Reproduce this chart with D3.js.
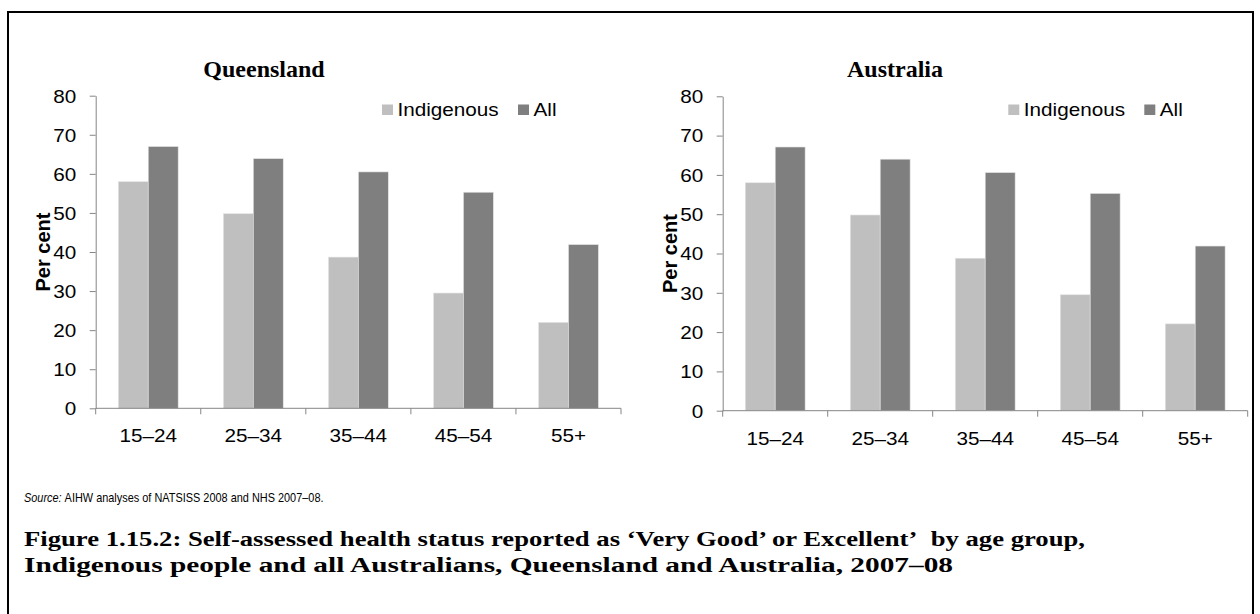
<!DOCTYPE html>
<html>
<head>
<meta charset="utf-8">
<script src="https://cdn.jsdelivr.net/npm/d3@7"></script>
<style>
  body { margin: 0; background: #fff; }
  svg text { fill: #000; }
</style>
</head>
<body>
<script>
// age groups and values (per cent)
var ageGroups = ["15\u201324", "25\u201334", "35\u201344", "45\u201354", "55+"];
var seriesNames = ["Indigenous", "All"];
var qldIndigenous = [58, 49.8, 38.7, 29.5, 22];
var qldAll = [67, 63.9, 60.5, 55.3, 41.9];
var ausIndigenous = [58, 49.8, 38.8, 29.5, 22.1];
var ausAll = [67.1, 64, 60.6, 55.3, 41.9];
var yTicks = [0, 10, 20, 30, 40, 50, 60, 70, 80];

var colors = ["#bfbfbf", "#7f7f7f"];
var sx = 1.15; // chart text in the picture is a bit stretched sideways
var sans = "'Liberation Sans', Arial, sans-serif";
var serif = "'Liberation Serif', 'Times New Roman', serif";

var svg = d3.select("body").append("svg")
  .attr("width", 1260)
  .attr("height", 614);

// outer frame
svg.append("rect")
  .attr("x", 8).attr("y", 12)
  .attr("width", 1245).attr("height", 620)
  .attr("fill", "none")
  .attr("stroke", "#000")
  .attr("stroke-width", 2);

function addText(g, x, y, str, size, opts) {
  opts = opts || {};
  var t = g.append("text")
    .attr("transform", "translate(" + x + "," + y + ") scale(" + (opts.scale || sx) + ",1)")
    .attr("font-family", opts.family || sans)
    .attr("font-size", size)
    .attr("font-weight", opts.weight || "normal")
    .attr("font-style", opts.style || "normal")
    .attr("text-anchor", opts.anchor || "start")
    .text(str);
  if (opts.len) {
    t.attr("textLength", opts.len).attr("lengthAdjust", "spacingAndGlyphs");
  }
  return t;
}

function drawChart(title, indig, all, box) {
  var g = svg.append("g");
  var x = d3.scaleBand()
    .domain(ageGroups)
    .range([box.left, box.right])
    .paddingInner(0.43)
    .paddingOuter(0.215);
  var x1 = d3.scaleBand()
    .domain(seriesNames)
    .range([0, x.bandwidth()]);
  var y = d3.scaleLinear()
    .domain([0, 80])
    .range([box.bottom, box.top]);

  var rows = ageGroups.map(function(a, i) {
    return { age: a, values: [indig[i], all[i]] };
  });

  g.selectAll("g.grp")
    .data(rows)
    .enter().append("g")
    .attr("class", "grp")
    .attr("transform", function(d) { return "translate(" + x(d.age) + ",0)"; })
    .selectAll("rect")
    .data(function(d) { return d.values.map(function(v, k) { return { s: seriesNames[k], v: v, k: k }; }); })
    .enter().append("rect")
    .attr("x", function(d) { return x1(d.s); })
    .attr("y", function(d) { return y(d.v); })
    .attr("width", x1.bandwidth())
    .attr("height", function(d) { return box.bottom - y(d.v); })
    .attr("fill", function(d) { return colors[d.k]; })
    .attr("stroke", "#e6e6e6")
    .attr("stroke-width", 0.6);

  // y axis
  var yAxis = g.append("g")
    .attr("transform", "translate(" + box.left + ",0)")
    .call(d3.axisLeft(y).tickValues(yTicks).tickSize(6).tickSizeOuter(0));
  yAxis.select(".domain").attr("stroke", "#868686");
  yAxis.selectAll(".tick line").attr("stroke", "#868686");
  yAxis.selectAll(".tick text")
    .attr("x", -17)
    .attr("dy", "0.35em")
    .attr("transform", "scale(" + sx + ",1)")
    .attr("font-family", sans)
    .attr("font-size", 18)
    .attr("fill", "#000");

  // x axis line and boundary ticks
  var xAxis = g.append("g");
  xAxis.append("line")
    .attr("x1", box.left).attr("x2", box.right)
    .attr("y1", box.bottom).attr("y2", box.bottom)
    .attr("stroke", "#868686");
  var bounds = ageGroups.map(function(a) { return x(a) - x.step() * x.paddingOuter(); });
  bounds.push(box.right);
  xAxis.selectAll("line.tk")
    .data(bounds)
    .enter().append("line")
    .attr("class", "tk")
    .attr("x1", function(d) { return d; }).attr("x2", function(d) { return d; })
    .attr("y1", box.bottom).attr("y2", box.bottom + 6)
    .attr("stroke", "#868686");
  ageGroups.forEach(function(a) {
    addText(xAxis, x(a) + x.bandwidth() / 2, box.bottom + 34, a, 18, { anchor: "middle" });
  });

  // y axis title
  g.append("text")
    .attr("transform", "translate(" + (box.left - 46) + "," + ((box.top + box.bottom) / 2) + ") rotate(-90)")
    .attr("font-family", sans)
    .attr("font-size", 20)
    .attr("font-weight", "bold")
    .attr("text-anchor", "middle")
    .text("Per cent");

  // chart title
  addText(g, box.titleX, 77, title, 24, { family: serif, weight: "bold", anchor: "middle", scale: 1 });

  // legend
  var lg = g.append("g");
  var lx = [box.legendX, box.legendX + 136];
  seriesNames.forEach(function(s, k) {
    lg.append("rect")
      .attr("x", lx[k]).attr("y", 104.5)
      .attr("width", 11).attr("height", 10.5)
      .attr("fill", colors[k]);
    addText(lg, lx[k] + 15.5, 116, s, 18);
  });
}

drawChart("Queensland", qldIndigenous, qldAll,
  { left: 95.7, right: 621, top: 95.7, bottom: 408.3, titleX: 264, legendX: 382 });
drawChart("Australia", ausIndigenous, ausAll,
  { left: 722.7, right: 1247.7, top: 96.3, bottom: 410.7, titleX: 895, legendX: 1008.3 });

// source note (narrow sans in the picture)
var note = svg.append("g");
var srcScale = 0.84;
var srcLabel = addText(note, 24, 502, "Source:", 13, { scale: srcScale, style: "italic" });
var labelW = srcLabel.node().getComputedTextLength() * srcScale;
addText(note, 24 + labelW + 3, 502, "AIHW analyses of NATSISS 2008 and NHS 2007\u201308.", 13, { scale: srcScale });

// figure caption
addText(note, 24, 546, "Figure 1.15.2: Self-assessed health status reported as \u2018Very Good\u2019 or Excellent\u2019\u00a0 by age group,", 20,
  { family: serif, weight: "bold", scale: 1, len: 1061 });
addText(note, 24, 572, "Indigenous people and all Australians, Queensland and Australia, 2007\u201308", 20,
  { family: serif, weight: "bold", scale: 1, len: 929 });
</script>
</body>
</html>
